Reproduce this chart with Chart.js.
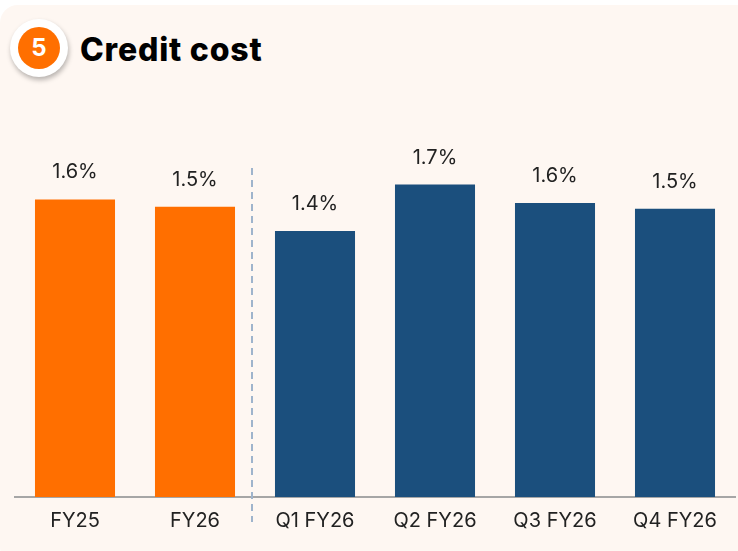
<!DOCTYPE html>
<html>
<head>
<meta charset="utf-8">
<script src="https://cdn.jsdelivr.net/npm/chart.js@4"></script>
<style>
  html, body { margin: 0; padding: 0; background: #ffffff; }
  body { width: 738px; height: 551px; overflow: hidden; position: relative; font-family: 'Inter', 'Open Sans', sans-serif; }
  .card { position: absolute; left: 0; top: 5px; width: 760px; height: 560px; background: #fef7f2; border-radius: 18px; }
  .badge { position: absolute; left: 10px; top: 19px; width: 58px; height: 58px; border-radius: 50%; background: #fff; box-shadow: 1px 3px 5px rgba(0,0,0,0.28); }
  .badge span { position: absolute; left: 8px; top: 8px; width: 42px; height: 42px; border-radius: 50%; background: #ff6f00; color: #fff; font-weight: 700; font-size: 24px; line-height: 42px; text-align: center; }
  .title { position: absolute; left: 80px; top: 30px; font-size: 32px; font-weight: 800; color: #000; letter-spacing: 0.8px; }
  .wrap { position: absolute; left: 0; top: 0; width: 738px; height: 551px; }
</style>
</head>
<body>
<div class="card"></div>
<div class="badge"><span>5</span></div>
<div class="title">Credit cost</div>
<div class="wrap"><canvas id="chart"></canvas></div>
<script>
'use strict';

// ── Data ───────────────────────────────────────────────────────────────────────
const categories = ['FY25', 'FY26', 'Q1 FY26', 'Q2 FY26', 'Q3 FY26', 'Q4 FY26'];
const creditCost = [1.60, 1.56, 1.43, 1.68, 1.58, 1.55];
const valueLabels = ['1.6%', '1.5%', '1.4%', '1.7%', '1.6%', '1.5%'];
const barColors = ['#ff6f00', '#ff6f00', '#1b4f7d', '#1b4f7d', '#1b4f7d', '#1b4f7d'];

// value labels above bars
const labelPlugin = {
  id: 'valueLabels',
  afterDatasetsDraw(chart) {
    const ctx = chart.ctx;
    const meta = chart.getDatasetMeta(0);
    ctx.save();
    ctx.font = '20px Inter, "Open Sans", sans-serif';
    ctx.fillStyle = '#222';
    ctx.textAlign = 'center';
    ctx.textBaseline = 'middle';
    meta.data.forEach((bar, i) => {
      ctx.fillText(valueLabels[i], bar.x, bar.y - 27);
    });
    ctx.restore();
  }
};

// dashed separator between yearly and quarterly bars
const dividerPlugin = {
  id: 'divider',
  afterDraw(chart) {
    const x = chart.scales.x;
    const px = (x.getPixelForValue(1) + x.getPixelForValue(2)) / 2 - 3;
    const ctx = chart.ctx;
    ctx.save();
    ctx.strokeStyle = '#9fb4cc';
    ctx.lineWidth = 2;
    ctx.setLineDash([7, 5]);
    ctx.beginPath();
    ctx.moveTo(px, 168);
    ctx.lineTo(px, 522);
    ctx.stroke();
    ctx.restore();
  }
};

new Chart(document.getElementById('chart'), {
  type: 'bar',
  data: {
    labels: categories,
    datasets: [{
      data: creditCost,
      backgroundColor: barColors,
      categoryPercentage: 1,
      barPercentage: 0.667,
    }],
  },
  options: {
    responsive: true,
    maintainAspectRatio: false,
    animation: false,
    layout: { padding: { left: 15, right: 3, top: 125, bottom: 14 } },
    plugins: { legend: { display: false }, tooltip: { enabled: false } },
    scales: {
      x: {
        grid: { display: false },
        border: { color: '#a6a6a6', width: 2 },
        ticks: { color: '#222', padding: 4, font: { family: 'Inter', size: 20 } },
      },
      y: { display: false, min: 0, max: 2 },
    },
  },
  plugins: [labelPlugin, dividerPlugin],
});
</script>
</body>
</html>
